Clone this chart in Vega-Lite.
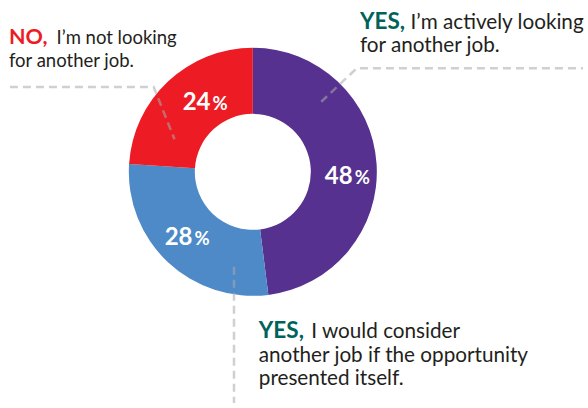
{
  "$schema": "https://vega.github.io/schema/vega-lite/v6.json",
  "width": 588,
  "height": 408,
  "autosize": {"type": "fit", "contains": "padding"},
  "padding": 0,
  "background": "white",
  "config": {"view": {"stroke": null}, "font": "Lato"},
  "datasets": {
    "slices": [
      {"answer": "YES, I'm actively looking for another job.", "pct": 48, "order": 1},
      {"answer": "YES, I would consider another job if the opportunity presented itself.", "pct": 28, "order": 2},
      {"answer": "NO, I'm not looking for another job.", "pct": 24, "order": 3}
    ],
    "leaders": [
      {"leader": "no", "step": 1, "x": 10, "y": 88},
      {"leader": "no", "step": 2, "x": 155, "y": 88},
      {"leader": "no", "step": 3, "x": 176, "y": 141},
      {"leader": "active", "step": 1, "x": 324, "y": 103},
      {"leader": "active", "step": 2, "x": 360, "y": 69},
      {"leader": "active", "step": 3, "x": 588, "y": 69},
      {"leader": "consider", "step": 1, "x": 236, "y": 270},
      {"leader": "consider", "step": 2, "x": 236, "y": 408}
    ],
    "keywords": [
      {"group": "no", "key": "NO,", "x": 9, "y": 45},
      {"group": "active", "key": "YES,", "x": 363, "y": 29},
      {"group": "consider", "key": "YES,", "x": 261, "y": 342}
    ],
    "body": [
      {"group": "no", "text": "I’m not looking", "x": 57, "y": 45},
      {"group": "no", "text": "for another job.", "x": 9, "y": 68},
      {"group": "active", "text": "I’m actively looking", "x": 414, "y": 29},
      {"group": "active", "text": "for another job.", "x": 363, "y": 53},
      {"group": "consider", "text": "I would consider", "x": 314, "y": 342},
      {"group": "consider", "text": "another job if the opportunity", "x": 261, "y": 366},
      {"group": "consider", "text": "presented itself.", "x": 261, "y": 390}
    ]
  },
  "layer": [
    {
      "data": {"name": "slices"},
      "encoding": {
        "theta": {"field": "pct", "type": "quantitative", "stack": true},
        "order": {"field": "order", "type": "quantitative"},
        "x": {"datum": 255, "type": "quantitative", "scale": {"domain": [0, 588], "nice": false, "zero": false}, "axis": null},
        "y": {"datum": 174, "type": "quantitative", "scale": {"domain": [0, 408], "nice": false, "zero": false, "reverse": true}, "axis": null}
      },
      "layer": [
        {
          "mark": {"type": "arc", "innerRadius": 58, "outerRadius": 124},
          "encoding": {
            "color": {
              "field": "answer",
              "type": "nominal",
              "scale": {
                "domain": [
                  "YES, I'm actively looking for another job.",
                  "YES, I would consider another job if the opportunity presented itself.",
                  "NO, I'm not looking for another job."
                ],
                "range": ["#56318f", "#4e8ac8", "#ed1c24"]
              },
              "legend": null
            }
          }
        },
        {
          "mark": {"type": "text", "radius": 91, "align": "right", "baseline": "alphabetic", "dx": 9, "dy": 18, "fontSize": 24, "fontWeight": "bold", "color": "white"},
          "encoding": {"text": {"condition": {"test": "datum.order === 1", "field": "pct", "type": "quantitative"}, "value": ""}}
        },
        {
          "mark": {"type": "text", "radius": 91, "align": "left", "baseline": "alphabetic", "dx": 11, "dy": 18, "fontSize": 18.5, "fontWeight": "bold", "color": "white"},
          "encoding": {"text": {"condition": {"test": "datum.order === 1", "value": "%"}, "value": ""}}
        },
        {
          "mark": {"type": "text", "radius": 91, "align": "right", "baseline": "alphabetic", "dx": 2, "dy": 7, "fontSize": 24, "fontWeight": "bold", "color": "white"},
          "encoding": {"text": {"condition": {"test": "datum.order === 2", "field": "pct", "type": "quantitative"}, "value": ""}}
        },
        {
          "mark": {"type": "text", "radius": 91, "align": "left", "baseline": "alphabetic", "dx": 4, "dy": 7, "fontSize": 18.5, "fontWeight": "bold", "color": "white"},
          "encoding": {"text": {"condition": {"test": "datum.order === 2", "value": "%"}, "value": ""}}
        },
        {
          "mark": {"type": "text", "radius": 91, "align": "right", "baseline": "alphabetic", "dx": 20, "dy": 4, "fontSize": 24, "fontWeight": "bold", "color": "white"},
          "encoding": {"text": {"condition": {"test": "datum.order === 3", "field": "pct", "type": "quantitative"}, "value": ""}}
        },
        {
          "mark": {"type": "text", "radius": 91, "align": "left", "baseline": "alphabetic", "dx": 22, "dy": 4, "fontSize": 18.5, "fontWeight": "bold", "color": "white"},
          "encoding": {"text": {"condition": {"test": "datum.order === 3", "value": "%"}, "value": ""}}
        }
      ]
    },
    {
      "data": {"name": "leaders"},
      "mark": {"type": "line", "stroke": "#aaaaaa", "strokeOpacity": 0.55, "strokeWidth": 2.5, "strokeDash": [8, 5]},
      "encoding": {
        "x": {"field": "x", "type": "quantitative", "scale": {"domain": [0, 588], "nice": false, "zero": false}, "axis": null},
        "y": {"field": "y", "type": "quantitative", "scale": {"domain": [0, 408], "nice": false, "zero": false, "reverse": true}, "axis": null},
        "detail": {"field": "leader", "type": "nominal"},
        "order": {"field": "step", "type": "quantitative"}
      }
    },
    {
      "data": {"name": "keywords"},
      "mark": {"type": "text", "align": "left", "baseline": "alphabetic", "fontWeight": "bold"},
      "encoding": {
        "x": {"field": "x", "type": "quantitative", "scale": {"domain": [0, 588], "nice": false, "zero": false}, "axis": null},
        "y": {"field": "y", "type": "quantitative", "scale": {"domain": [0, 408], "nice": false, "zero": false, "reverse": true}, "axis": null},
        "text": {"field": "key", "type": "nominal"},
        "size": {"condition": {"test": "datum.group === 'no'", "value": 21.5}, "value": 22.5},
        "color": {"condition": {"test": "datum.group === 'no'", "value": "#ed1c24"}, "value": "#00625a"}
      }
    },
    {
      "data": {"name": "body"},
      "mark": {"type": "text", "align": "left", "baseline": "alphabetic", "color": "#231f20"},
      "encoding": {
        "x": {"field": "x", "type": "quantitative", "scale": {"domain": [0, 588], "nice": false, "zero": false}, "axis": null},
        "y": {"field": "y", "type": "quantitative", "scale": {"domain": [0, 408], "nice": false, "zero": false, "reverse": true}, "axis": null},
        "text": {"field": "text", "type": "nominal"},
        "size": {"condition": {"test": "datum.group === 'no'", "value": 18.5}, "value": 20.7}
      }
    }
  ]
}
